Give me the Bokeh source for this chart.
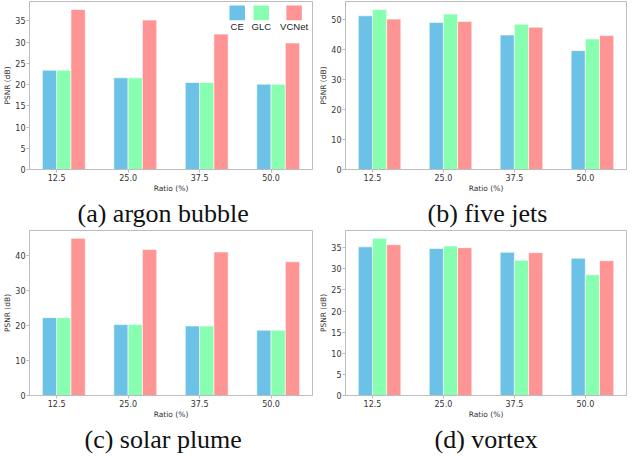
import numpy as np
from bokeh.plotting import figure
from bokeh.models import Range1d, FixedTicker, Title
from bokeh.layouts import column, row
from bokeh.core.properties import value
from bokeh.embed import file_html
from bokeh.resources import INLINE

# ---------------- data ----------------
ratios = ["12.5", "25.0", "37.5", "50.0"]
methods = ["CE", "GLC", "VCNet"]

argon_ce = [23.4, 21.6, 20.5, 20.1]
argon_glc = [23.4, 21.6, 20.5, 20.1]
argon_vcnet = [37.7, 35.2, 31.9, 29.8]

fivejets_ce = [51.2, 49.0, 44.8, 39.6]
fivejets_glc = [53.3, 51.8, 48.4, 43.5]
fivejets_vcnet = [50.1, 49.3, 47.4, 44.6]

solar_ce = [22.3, 20.3, 19.9, 18.7]
solar_glc = [22.3, 20.3, 19.9, 18.7]
solar_vcnet = [45.0, 41.8, 41.1, 38.3]

vortex_ce = [35.2, 34.8, 33.9, 32.5]
vortex_glc = [37.2, 35.4, 32.0, 28.6]
vortex_vcnet = [35.7, 35.0, 33.8, 31.9]

argon_yticks = [0, 5, 10, 15, 20, 25, 30, 35]
fivejets_yticks = [0, 10, 20, 30, 40, 50]
solar_yticks = [0, 10, 20, 30, 40]
vortex_yticks = [0, 5, 10, 15, 20, 25, 30, 35]

captions = ["(a) argon bubble", "(b) five jets", "(c) solar plume", "(d) vortex"]

# ---------------- style ----------------
COLORS = ["#6cc1e6", "#88ffb0", "#ff9494"]
SPINE = "#bdbdbd"
TXT = "#333333"
TICK_FONT = "DejaVu Sans"
CAP_FONT = "Liberation Serif"
BAR_W = 0.2
OFFSETS = [-0.1, 0.1, 0.3]


def make_panel(series, yticks, caption, cap_offset, width, height, bl, br, bt, bb, legend=False):
    xs = np.arange(len(ratios))
    left = xs.min() + OFFSETS[0] - BAR_W / 2
    right = xs.max() + OFFSETS[-1] + BAR_W / 2
    pad = 0.05 * (right - left)
    ymax = max(max(s) for s in series) * 1.05
    p = figure(width=width, height=height, output_backend="svg", toolbar_location=None,
               x_range=Range1d(left - pad, right + pad), y_range=Range1d(0, ymax),
               min_border_left=bl, min_border_right=br, min_border_top=bt, min_border_bottom=bb)
    p.title.visible = False
    p.grid.visible = False
    p.outline_line_color = SPINE
    p.outline_line_width = 1
    p.background_fill_color = "white"
    p.border_fill_color = "white"
    for s, off, c in zip(series, OFFSETS, COLORS):
        p.vbar(x=xs + off, top=s, width=BAR_W, bottom=0, fill_color=c,
               line_color="white", line_width=0.6)
    p.xaxis.ticker = FixedTicker(ticks=list(xs))
    p.xaxis.major_label_overrides = {int(i): r for i, r in zip(xs, ratios)}
    p.yaxis.ticker = FixedTicker(ticks=yticks)
    p.xaxis.axis_label = "Ratio (%)"
    p.yaxis.axis_label = "PSNR (dB)"
    for ax in (p.xaxis[0], p.yaxis[0]):
        ax.axis_line_color = SPINE
        ax.major_tick_line_color = SPINE
        ax.major_tick_out = 3
        ax.major_tick_in = 0
        ax.minor_tick_line_color = None
        ax.major_label_text_font = TICK_FONT
        ax.major_label_text_font_size = "8px"
        ax.major_label_text_color = TXT
        ax.major_label_standoff = 1
        ax.axis_label_text_font = TICK_FONT
        ax.axis_label_text_font_size = "7.5px"
        ax.axis_label_text_font_style = "normal"
        ax.axis_label_text_color = TXT
        ax.axis_label_standoff = 0
    if legend:
        x0, x1 = p.x_range.start, p.x_range.end
        y0, y1 = p.y_range.start, p.y_range.end
        fx = [0.734, 0.819, 0.935]
        pw = 0.0546 * (x1 - x0)
        ptop = y1 - 0.0235 * (y1 - y0)
        pbot = y1 - 0.112 * (y1 - y0)
        ly = y1 - 0.15 * (y1 - y0)
        cx = [x0 + f * (x1 - x0) for f in fx]
        p.quad(left=[c - pw / 2 for c in cx], right=[c + pw / 2 for c in cx],
               top=ptop, bottom=pbot, fill_color=COLORS, line_color=None)
        p.text(x=cx, y=[ly] * 3, text=methods, text_align="center", text_baseline="middle",
               text_font=value("Liberation Sans"), text_font_size="9.5px", text_color="#222222")
    cap = Title(text=caption, align="left", offset=cap_offset, standoff=2,
                text_font=CAP_FONT, text_font_size="26px",
                text_font_style="normal", text_color="#111111")
    p.add_layout(cap, "below")
    return p


WA, WB = 316, 312
H1, H2 = 229, 225

pa = make_panel([argon_ce, argon_glc, argon_vcnet], argon_yticks, captions[0], 48,
                WA, H1, 24, 4, 1, 60, legend=True)
pb = make_panel([fivejets_ce, fivejets_glc, fivejets_vcnet], fivejets_yticks, captions[1], 82,
                WB, H1, 24, 2, 1, 60)
pc = make_panel([solar_ce, solar_glc, solar_vcnet], solar_yticks, captions[2], 55,
                WA, H2, 24, 4, 1, 56)
pd = make_panel([vortex_ce, vortex_glc, vortex_vcnet], vortex_yticks, captions[3], 89,
                WB, H2, 24, 2, 1, 56)

layout = column(row(pa, pb), row(pc, pd))

open("out.html", "w").write(file_html(layout, INLINE))
